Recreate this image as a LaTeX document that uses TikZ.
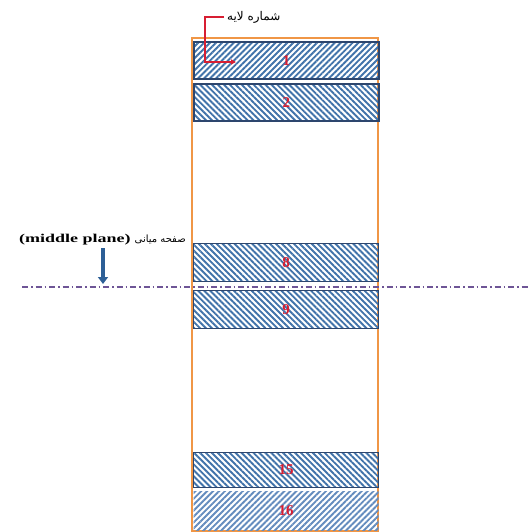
\documentclass[tikz,border=0pt]{standalone}
\usepackage{fontspec}
\usepackage{graphicx}
\setmainfont{Liberation Serif}
\newfontfamily\arabicfont[Script=Arabic]{DejaVu Sans}
\TeXXeTstate=1
\usetikzlibrary{patterns.meta,arrows.meta}
\definecolor{frameorange}{RGB}{240,150,70}
\definecolor{hatchblue}{RGB}{65,115,170}
\definecolor{hatchlight}{RGB}{100,140,190}
\definecolor{layerborder}{RGB}{45,70,110}
\definecolor{planepurple}{RGB}{110,85,150}
\definecolor{arrowblue}{RGB}{45,95,150}
\definecolor{numred}{RGB}{215,30,50}
\tikzset{
  layerbox/.style={draw=layerborder, line width=1.2pt, minimum width=185pt, minimum height=37pt, inner sep=0pt, anchor=north west,
    font=\bfseries\fontsize{15}{16}\selectfont, text=numred},
  hatchNE/.style={pattern={Lines[angle=45,distance=4.2pt,line width=1.9pt]}, pattern color=hatchblue},
  hatchNW/.style={pattern={Lines[angle=-45,distance=4.2pt,line width=1.9pt]}, pattern color=hatchblue},
  hatchLight/.style={pattern={Lines[angle=45,distance=4.2pt,line width=1.9pt]}, pattern color=hatchlight},
}
\begin{document}
\begin{tikzpicture}[x=1pt,y=-1pt]
\useasboundingbox (0,0) rectangle (530,532);
% frame
\draw[frameorange, line width=1.5pt] (192,38) rectangle (378,531);
% layers
\node[layerbox, hatchNE] (l1) at (193,41) {1};
\node[layerbox, hatchNW] (l2) at (193,83) {2};
\node[layerbox, hatchNW, minimum height=38pt] (l8) at (193,243) {8};
\node[layerbox, hatchNW, minimum height=38pt] (l9) at (193,290) {9};
\node[layerbox, hatchNW, minimum height=35pt] (l15) at (193,452) {15};
\node[layerbox, hatchLight, draw=none, minimum height=39pt] (l16) at (193,491) {16};
% middle plane line
\coordinate (mpL) at (22,287);
\coordinate (mpR) at (530,287);
\draw[planepurple, line width=1.3pt, dash pattern=on 6pt off 3pt on 1.5pt off 3pt] (mpL) -- (mpR);
% middle plane label
\node[anchor=east, inner sep=0pt] (mptxt) at (186,240) {\scalebox{1.5}[1]{\bfseries\fontsize{12}{13}\selectfont (middle plane)}\hspace{4pt}{\arabicfont\fontsize{10}{11}\selectfont\beginR صفحه میانی\endR}};
\coordinate (mparrowtop) at (103,248);
\coordinate (mparrowend) at (103,284);
\draw[arrowblue, line width=3.5pt, -{Triangle[length=7pt,width=10pt]}] (mparrowtop) -- (mparrowend);
% layer number label
\node[inner sep=0pt, anchor=west] (lbl) at (227,17) {\arabicfont\fontsize{12}{13}\selectfont\beginR شماره لایه\endR};
\coordinate (tip) at (236,62);
\draw[numred, line width=1.5pt, -{Triangle[length=5pt,width=5pt]}] ([xshift=-3pt]lbl.west) -- ++(-19,0) |- (tip);
\end{tikzpicture}
\end{document}
